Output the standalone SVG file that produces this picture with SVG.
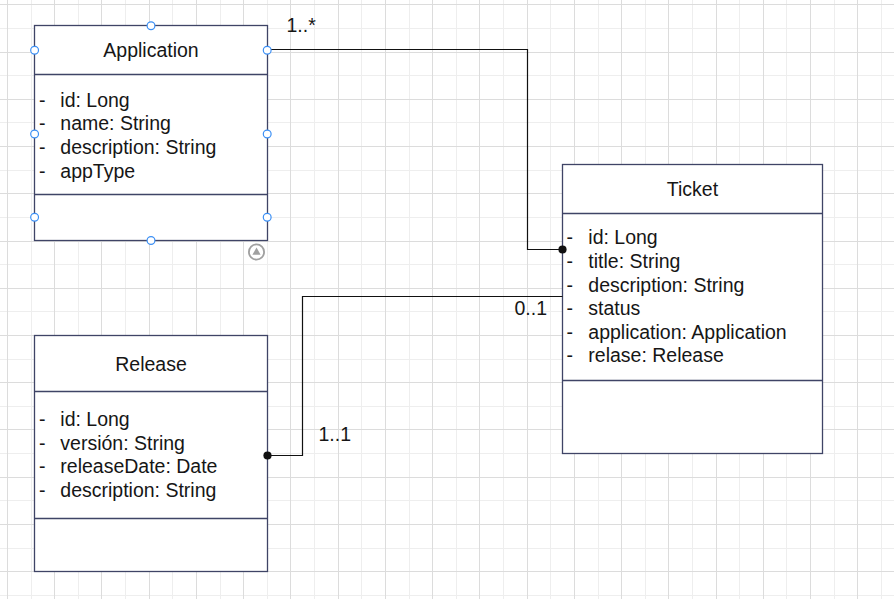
<svg xmlns="http://www.w3.org/2000/svg" width="894" height="599" viewBox="0 0 894 599">
<style>
.gmaj{stroke:#dcdcdc;stroke-width:1;fill:none}
.gmin{stroke:#eeeeee;stroke-width:1;fill:none}
.box{fill:#ffffff;stroke:#3f4466;stroke-width:1.3}
.div{stroke:#3f4466;stroke-width:1.3;fill:none}
.t{font-family:"Liberation Sans",Arial,sans-serif;font-size:19.5px;fill:#161616}
.title{text-anchor:middle}
.edge{stroke:#111111;stroke-width:1.2;fill:none}
.dot{fill:#111111}
.h{fill:#ffffff;stroke:#3b8ff5;stroke-width:1.2}
</style>
<rect width="894" height="599" fill="#ffffff"/>
<g id="grid">
<path class="gmin" d="M31.5,0V599M78.5,0V599M125.5,0V599M172.5,0V599M220.5,0V599M267.5,0V599M314.5,0V599M361.5,0V599M409.5,0V599M456.5,0V599M503.5,0V599M550.5,0V599M598.5,0V599M645.5,0V599M692.5,0V599M739.5,0V599M786.5,0V599M834.5,0V599M881.5,0V599
M0,28.5H894M0,75.5H894M0,122.5H894M0,170.5H894M0,217.5H894M0,264.5H894M0,311.5H894M0,359.5H894M0,406.5H894M0,453.5H894M0,500.5H894M0,548.5H894M0,595.5H894"/>
<path class="gmaj" d="M7.5,0V599M54.5,0V599M101.5,0V599M149.5,0V599M196.5,0V599M243.5,0V599M290.5,0V599M338.5,0V599M385.5,0V599M432.5,0V599M479.5,0V599M527.5,0V599M574.5,0V599M621.5,0V599M668.5,0V599M716.5,0V599M763.5,0V599M810.5,0V599M857.5,0V599
M0,4.5H894M0,52.5H894M0,99.5H894M0,146.5H894M0,193.5H894M0,241.5H894M0,288.5H894M0,335.5H894M0,382.5H894M0,429.5H894M0,477.5H894M0,524.5H894M0,571.5H894"/>
</g>
<g id="Application">
<rect class="box" x="34.5" y="25.5" width="233" height="215"/>
<path class="div" d="M34.5,74.5H267.5M34.5,194.5H267.5"/>
<text class="t title" x="151" y="57">Application</text>
<text class="t"><tspan x="39" y="106.5">-</tspan><tspan x="60.3" y="106.5">id: Long</tspan></text>
<text class="t"><tspan x="39" y="130.2">-</tspan><tspan x="60.3" y="130.2">name: String</tspan></text>
<text class="t"><tspan x="39" y="153.9">-</tspan><tspan x="60.3" y="153.9">description: String</tspan></text>
<text class="t"><tspan x="39" y="177.6">-</tspan><tspan x="60.3" y="177.6">appType</tspan></text>
</g>
<g id="Ticket">
<rect class="box" x="562.5" y="164.5" width="260" height="289"/>
<path class="div" d="M562.5,213.5H822.5M562.5,380.5H822.5"/>
<text class="t title" x="692.5" y="195.7">Ticket</text>
<text class="t"><tspan x="566.5" y="244.2">-</tspan><tspan x="588.3" y="244.2">id: Long</tspan></text>
<text class="t"><tspan x="566.5" y="267.8">-</tspan><tspan x="588.3" y="267.8">title: String</tspan></text>
<text class="t"><tspan x="566.5" y="291.5">-</tspan><tspan x="588.3" y="291.5">description: String</tspan></text>
<text class="t"><tspan x="566.5" y="315.2">-</tspan><tspan x="588.3" y="315.2">status</tspan></text>
<text class="t"><tspan x="566.5" y="338.8">-</tspan><tspan x="588.3" y="338.8">application: Application</tspan></text>
<text class="t"><tspan x="566.5" y="362.4">-</tspan><tspan x="588.3" y="362.4">relase: Release</tspan></text>
</g>
<g id="Release">
<rect class="box" x="34.5" y="335.5" width="233" height="236"/>
<path class="div" d="M34.5,391.5H267.5M34.5,518.5H267.5"/>
<text class="t title" x="151" y="370.7">Release</text>
<text class="t"><tspan x="39" y="426">-</tspan><tspan x="60.3" y="426">id: Long</tspan></text>
<text class="t"><tspan x="39" y="449.6">-</tspan><tspan x="60.3" y="449.6">versión: String</tspan></text>
<text class="t"><tspan x="39" y="473.2">-</tspan><tspan x="60.3" y="473.2">releaseDate: Date</tspan></text>
<text class="t"><tspan x="39" y="496.8">-</tspan><tspan x="60.3" y="496.8">description: String</tspan></text>
</g>
<g id="connectors">
<path class="edge" d="M267,49.5H527.5V249.5H562.5"/>
<circle class="dot" cx="562.5" cy="249.5" r="4.1"/>
<path class="edge" d="M267.5,455.5H302.5V296.5H562.5"/>
<circle class="dot" cx="267.5" cy="455.5" r="4.1"/>
<text class="t" x="286.5" y="31.7">1..*</text>
<text class="t" x="514.5" y="315.3">0..1</text>
<text class="t" x="318.5" y="441">1..1</text>
</g>
<g id="selection">
<circle class="h" cx="151" cy="25.8" r="3.9"/>
<circle class="h" cx="34.6" cy="50.2" r="3.9"/>
<circle class="h" cx="267.2" cy="50.2" r="3.9"/>
<circle class="h" cx="34.6" cy="134" r="3.9"/>
<circle class="h" cx="267.2" cy="134" r="3.9"/>
<circle class="h" cx="34.6" cy="217.2" r="3.9"/>
<circle class="h" cx="267.2" cy="217.2" r="3.9"/>
<circle class="h" cx="151" cy="240.5" r="3.9"/>
<circle cx="256.5" cy="252" r="7.6" fill="#ffffff" stroke="#a0a0a0" stroke-width="1.8"/>
<path d="M256.5,247.6L260.6,254.8H252.4Z" fill="#a0a0a0"/>
</g>
</svg>
